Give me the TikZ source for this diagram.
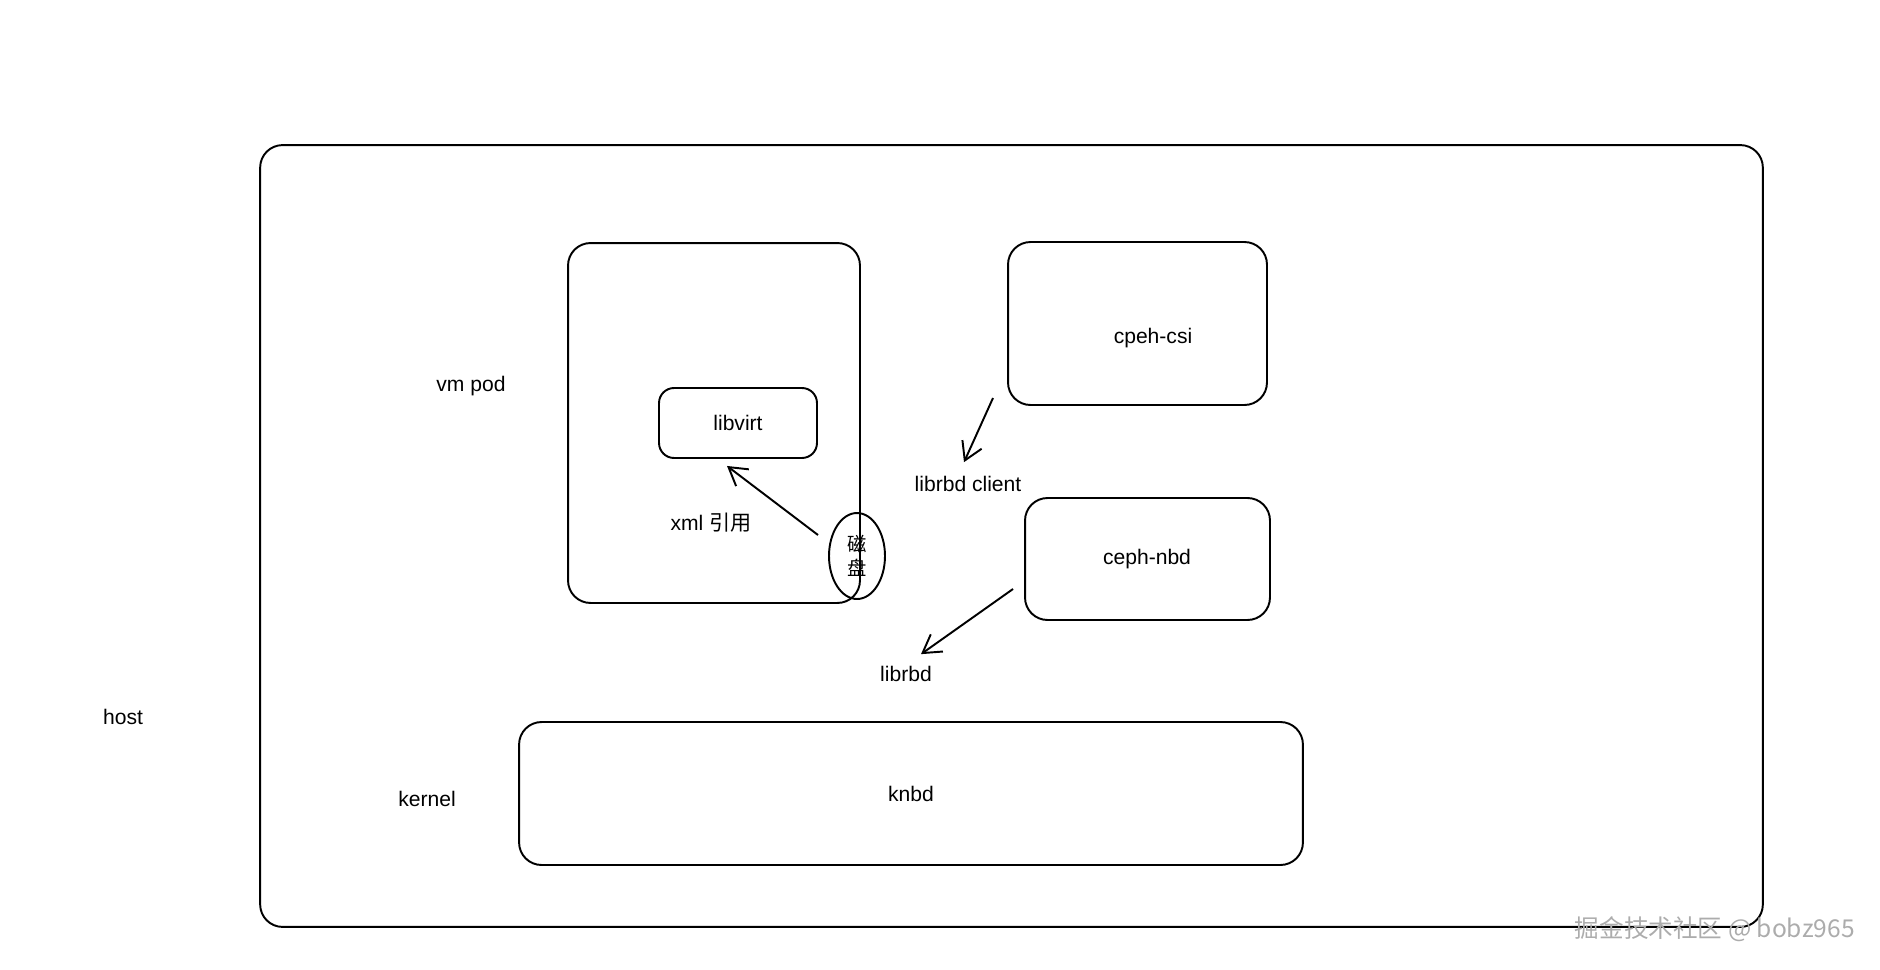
\documentclass[tikz,border=0pt]{standalone}
\usepackage{fontspec}
\setmainfont{Liberation Sans}
\newfontfamily\cjk{Noto Sans CJK SC}
\usetikzlibrary{arrows.meta,shapes.geometric}

\tikzset{
  box/.style={draw, line width=1.1pt, rounded corners=0.45cm, inner sep=0pt},
  lbl/.style={font=\fontsize{12}{14}\selectfont, inner sep=1pt},
  sketcharrow/.style={line width=1.1pt, -{Straight Barb[length=10pt,width=12pt]}}
}

\begin{document}
\begin{tikzpicture}[x=0.02cm, y=-0.02cm]
  \useasboundingbox (0,0) rectangle (1880,970);

  % Host frame and outer labels
  \node[box, minimum width=30.06cm, minimum height=15.64cm] (host) at (1011.5,536) {};
  \node[lbl] (hostlbl) at (123,717) {host};
  \node[lbl] (vmpodlbl) at (471,386) {vm pod};
  \node[lbl] (kernellbl) at (427,799) {kernel};

  % VM pod with libvirt inside
  \node[box, minimum width=5.84cm, minimum height=7.2cm] (vmpod) at (714,423) {};
  \node[box, rounded corners=0.3cm, minimum width=3.16cm, minimum height=1.4cm, lbl] (libvirt) at (738,423) {libvirt};
  \node[lbl] (xmlref) at (711,523) {xml {\cjk 引用}};

  % Disk on the pod edge
  \node[draw, line width=1.1pt, ellipse, minimum width=1.12cm, minimum height=1.72cm, inner sep=0pt,
        align=center, font=\cjk\fontsize{11}{14}\selectfont] (disk) at (857,556) {磁\\盘};

  % CSI side
  \node[box, minimum width=5.18cm, minimum height=3.26cm] (csi) at (1137.5,323.5) {};
  \node[lbl] (csilbl) at (1153,338) {cpeh-csi};
  \node[lbl] (rbdclient) at (968,484) {librbd client};
  \node[box, minimum width=4.9cm, minimum height=2.44cm] (nbd) at (1147.5,559) {};
  \node[lbl] (nbdlbl) at (1147,559) {ceph-nbd};
  \node[lbl] (librbd) at (906,674) {librbd};

  % Kernel nbd
  \node[box, minimum width=15.68cm, minimum height=2.86cm, lbl] (knbd) at (911,793.5) {knbd};

  % Arrows
  \coordinate (diskout) at (818,535);
  \coordinate (csiout) at (993,398);
  \coordinate (nbdout) at (1013,589);
  \draw[sketcharrow] (diskout) -- ([shift={(-11,7)}]libvirt.south);
  \draw[sketcharrow] (csiout) -- ([shift={(-4,-12)}]rbdclient.north);
  \draw[sketcharrow] (nbdout) -- ([shift={(15,-10)}]librbd.north);

  % Watermark
  \node[anchor=east, text=gray!65, font=\cjk\fontsize{14}{16}\selectfont, inner sep=0pt] (mark) at (1855,929) {掘金技术社区 @ bobz965};
\end{tikzpicture}
\end{document}
